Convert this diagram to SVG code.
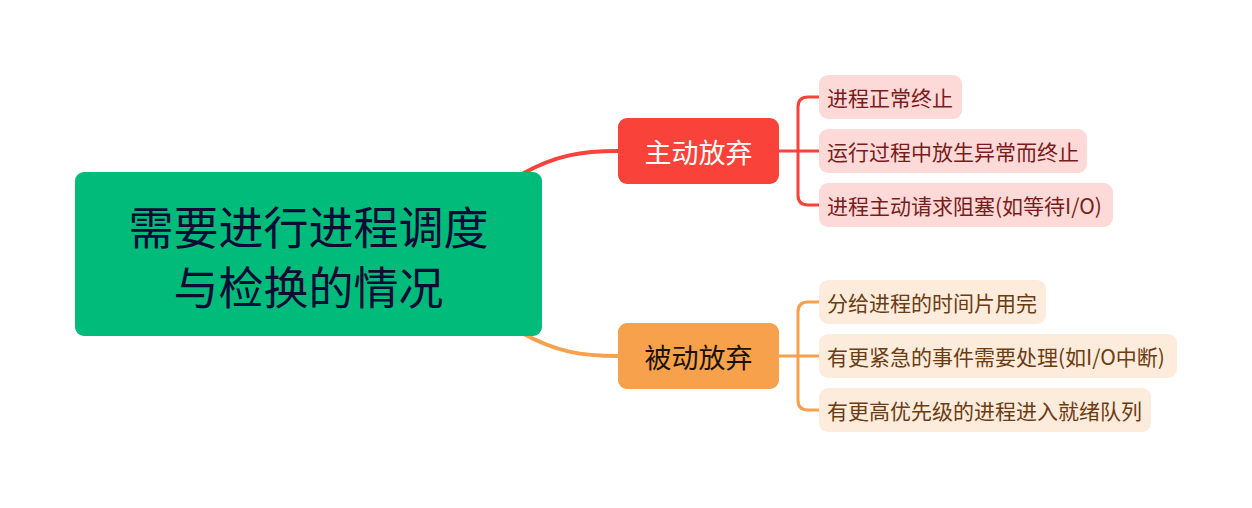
<svg xmlns="http://www.w3.org/2000/svg" width="1252" height="508" viewBox="0 0 1252 508">
<style>
text{font-family:"Noto Sans CJK SC","Noto Sans",sans-serif;dominant-baseline:central}
.root-t{font-size:45px;fill:#0b0b35;text-anchor:middle}
.main-t{font-size:27px;text-anchor:middle}
.leaf-t{font-size:21px}
.red-leaf{fill:#fdd9d8}
.org-leaf{fill:#fdebdc}
.red-leaf-t{fill:#7a1c1c}
.org-leaf-t{fill:#6b3d12}
.conn{fill:none;stroke-width:4;stroke-linecap:round}
.bk{fill:none;stroke-width:3}
</style>
<rect width="1252" height="508" fill="#ffffff"/>
<g id="connectors">
<path class="conn" stroke="#f9423a" d="M522,174 C556,155 582,151 618,151"/>
<path class="conn" stroke="#f7a14d" d="M522,333 C556,352 582,356 618,356"/>
<path class="bk" stroke="#f9423a" d="M779,151 H819 M819,97 H808 Q798,97 798,107 V195 Q798,205 808,205 H819"/>
<path class="bk" stroke="#f7a14d" d="M779,356 H819 M819,302 H808 Q798,302 798,312 V400 Q798,410 808,410 H819"/>
</g>
<g id="root">
<rect x="75" y="172" width="467" height="164" rx="9" fill="#00bb7a"/>
<text class="root-t" x="308.5" y="225">需要进行进程调度</text>
<text class="root-t" x="308.5" y="285">与检换的情况</text>
</g>
<g id="active">
<rect x="618" y="118" width="161" height="66" rx="9" fill="#f9423a"/>
<text class="main-t" x="698.5" y="151" fill="#ffffff">主动放弃</text>
</g>
<g id="passive">
<rect x="618" y="323" width="161" height="66" rx="9" fill="#f7a14d"/>
<text class="main-t" x="698.5" y="356" fill="#1a1206">被动放弃</text>
</g>
<g id="a1">
<rect class="red-leaf" x="819" y="75" width="143" height="44" rx="9"/>
<text class="leaf-t red-leaf-t" x="827" y="97">进程正常终止</text>
</g>
<g id="a2">
<rect class="red-leaf" x="819" y="129" width="268" height="44" rx="9"/>
<text class="leaf-t red-leaf-t" x="827" y="151">运行过程中放生异常而终止</text>
</g>
<g id="a3">
<rect class="red-leaf" x="819" y="183" width="294" height="44" rx="9"/>
<text class="leaf-t red-leaf-t" x="827" y="205">进程主动请求阻塞(如等待I/O)</text>
</g>
<g id="p1">
<rect class="org-leaf" x="819" y="280" width="227" height="44" rx="9"/>
<text class="leaf-t org-leaf-t" x="827" y="302">分给进程的时间片用完</text>
</g>
<g id="p2">
<rect class="org-leaf" x="819" y="334" width="358" height="44" rx="9"/>
<text class="leaf-t org-leaf-t" x="827" y="356">有更紧急的事件需要处理(如I/O中断)</text>
</g>
<g id="p3">
<rect class="org-leaf" x="819" y="388" width="332" height="44" rx="9"/>
<text class="leaf-t org-leaf-t" x="827" y="410">有更高优先级的进程进入就绪队列</text>
</g>
</svg>
